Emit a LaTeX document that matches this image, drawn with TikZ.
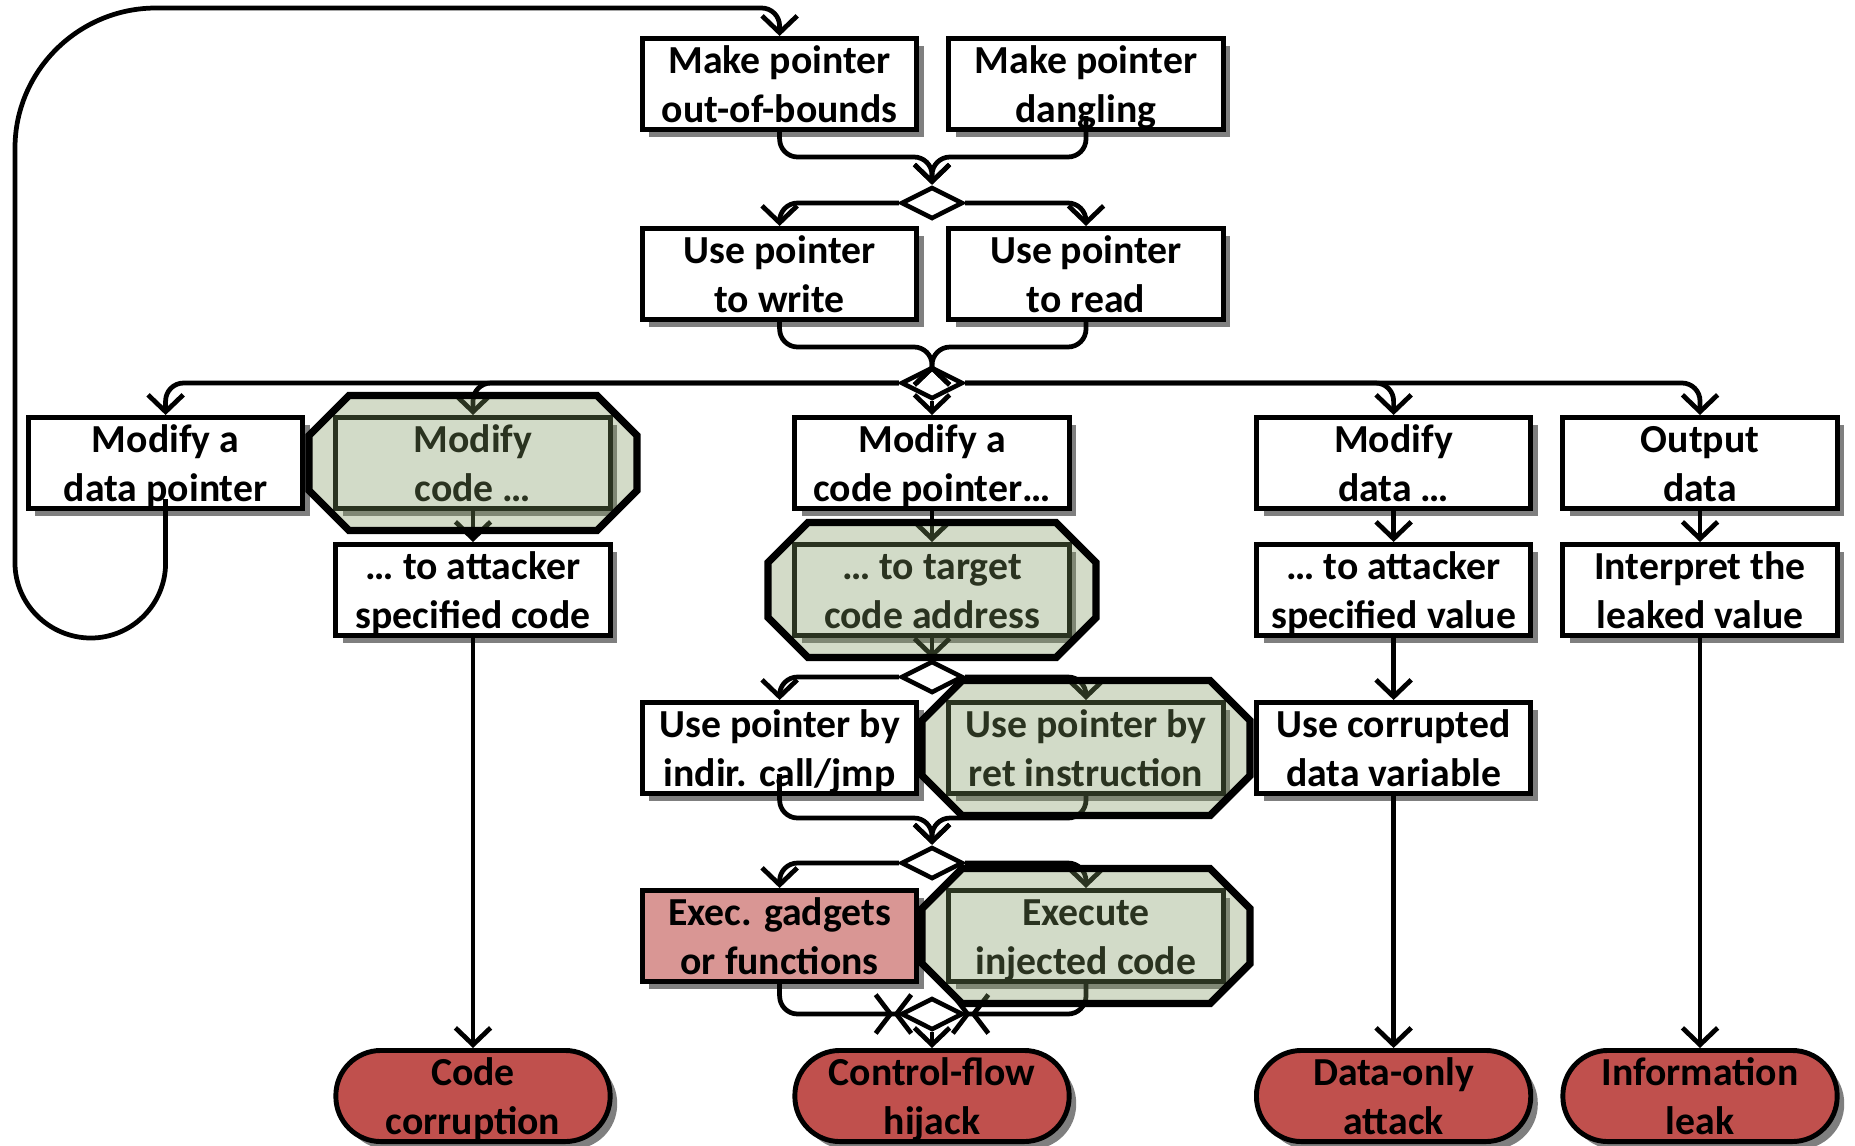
\documentclass[tikz,border=0pt]{standalone}
\usepackage{fontspec}
\setmainfont{Carlito}
\usetikzlibrary{arrows.meta,shadows,calc,shapes.geometric}

\definecolor{olivetint}{RGB}{126,150,94}
\definecolor{gadgetpink}{RGB}{217,150,148}
\definecolor{outcomered}{RGB}{192,80,77}

% two centred lines with a fixed height and depth
\newcommand{\boxtext}[2]{\rule{0pt}{10.8pt}#1\\#2\rule[-2.8pt]{0pt}{2.8pt}}

\tikzset{
  lbl/.style={font=\bfseries\fontsize{11.3}{13.8}\selectfont, align=center,
    inner xsep=0pt, inner ysep=-0.75pt},
  box/.style={lbl, draw, line width=1.4pt, fill=white,
    minimum width=78pt, minimum height=25.9pt,
    drop shadow={shadow xshift=2pt, shadow yshift=-2.2pt, fill=black, opacity=0.5}},
  gadget/.style={box, fill=gadgetpink},
  outcome/.style={box, fill=outcomered, rounded corners=12.8pt},
  junction/.style={diamond, draw, line width=1.3pt, fill=white, inner sep=0pt,
    minimum width=17.6pt, minimum height=9.1pt},
  conn/.style={line width=1.35pt, rounded corners=0.18cm,
    -{Straight Barb[length=4.8pt,width=10pt]}},
  crossmerge/.style={line width=1.35pt, rounded corners=0.18cm,
    -{Straight Barb[length=4.2pt,width=11pt,sep=0pt] Straight Barb[reversed,length=4.2pt,width=11pt]}},
  octo/.style={draw=black, line width=2.1pt, fill=olivetint, fill opacity=0.34, line join=miter},
}

% tinted octagon laid over a box
\newcommand{\octagonover}[1]{%
  \draw[octo] ($(#1.center)+(-164,-27.5)$) -- ++(0,55) -- ++(40,40) -- ++(248,0)
    -- ++(40,-40) -- ++(0,-55) -- ++(-40,-40) -- ++(-248,0) -- cycle;}

\begin{document}
\begin{tikzpicture}[x=0.01cm, y=-0.01cm]
\useasboundingbox (0,0) rectangle (1855,1145);

% ---- boxes ----
\node[box] (A) at (779.6,84) {\boxtext{Make pointer}{out-of-bounds}};
\node[box] (B) at (1086,84) {\boxtext{Make pointer}{dangling}};
\node[box] (C) at (779.6,274) {\boxtext{Use pointer}{to write}};
\node[box] (D) at (1086,274) {\boxtext{Use pointer}{to read}};

\node[box] (E) at (165.6,463) {\boxtext{Modify a}{data pointer}};
\node[box] (F) at (473,463) {\boxtext{Modify}{code …}};
\node[box] (G) at (932,463) {\boxtext{Modify a}{code pointer…}};
\node[box] (H) at (1393.6,463) {\boxtext{Modify}{data …}};
\node[box] (I) at (1700,463) {\boxtext{Output}{data}};

\node[box] (J) at (473,590) {\boxtext{… to attacker}{specified code}};
\node[box] (K) at (932,590) {\boxtext{… to target}{code address}};
\node[box] (L) at (1393.6,590) {\boxtext{… to attacker}{specified value}};
\node[box] (M) at (1700,590) {\boxtext{Interpret the}{leaked value}};

\node[box] (N) at (779.6,748) {\boxtext{Use pointer by}{indir. call/jmp}};
\node[box] (O) at (1086,748) {\boxtext{Use pointer by}{ret instruction}};
\node[box] (P) at (1393.6,748) {\boxtext{Use corrupted}{data variable}};

\node[gadget] (Q) at (779.6,936) {\boxtext{Exec. gadgets}{or functions}};
\node[box] (R) at (1086,936) {\boxtext{Execute}{injected code}};

\node[outcome] (T1) at (473,1096) {\boxtext{Code}{corruption}};
\node[outcome] (T2) at (932,1096) {\boxtext{Control-flow}{hijack}};
\node[outcome] (T3) at (1393.6,1096) {\boxtext{Data-only}{attack}};
\node[outcome] (T4) at (1700,1096) {\boxtext{Information}{leak}};

% ---- junctions ----
\node[junction] (J1) at (932,203) {};
\node[junction] (J2) at (932,383) {};
\node[junction] (J3) at (932,677) {};
\node[junction] (J4) at (932,863) {};
\node[junction] (J5) at (932,1014) {};

% ---- connectors ----
\draw[conn] (A.south) -- (779.6,157) -- (932,157) -- (J1.north);
\draw[conn] ($(B.south)+(0,-16)$) -- (1086,157) -- (932,157) -- (J1.north);
\draw[conn] (J1.west) -- (779.6,203) -- (C.north);
\draw[conn] (J1.east) -- (1086,203) -- (D.north);

\draw[conn] (C.south) -- (779.6,347) -- (932,347) -- (J2.north);
\draw[conn] (D.south) -- (1086,347) -- (932,347) -- (J2.north);
\draw[conn] (J2.west) -- (165.6,383) -- (E.north);
\draw[conn] (J2.west) -- (473,383) -- (F.north);
\draw[conn] (J2.south) -- (G.north);
\draw[conn] (J2.east) -- (1393.6,383) -- (H.north);
\draw[conn] (J2.east) -- (1700,383) -- (I.north);

\draw[conn] (F.south) -- (J.north);
\draw[conn] (G.south) -- (K.north);
\draw[conn] (H.south) -- (L.north);
\draw[conn] (I.south) -- (M.north);

% loop back from the data pointer branch
\draw[line width=1.35pt, -{Straight Barb[length=4.8pt,width=10pt]}]
  ($(E.south)+(0,-12)$) -- (165.6,563)
  .. controls (165.6,604.3) and (132.1,638) .. (90.8,638)
  .. controls (49.5,638) and (15,604.3) .. (15,563)
  -- (15,148)
  .. controls (15,70.7) and (78.7,8) .. (156,8)
  -- (761.6,8)
  .. controls (771.5,8) and (779.6,16.1) .. (779.6,26)
  -- (A.north);

\draw[conn] (K.south) -- (J3.north);
\draw[conn] (J3.west) -- (779.6,677) -- (N.north);
\draw[conn] (J3.east) -- (1086,677) -- (O.north);
\draw[conn] (L.south) -- (P.north);

\draw[conn] ($(N.south)+(0,-22)$) -- (779.6,818) -- (932,818) -- (J4.north);
\draw[conn] (O.south) -- (1086,818) -- (932,818) -- (J4.north);
\draw[conn] (J4.west) -- (779.6,863) -- (Q.north);
\draw[conn] (J4.east) -- (1086,863) -- (R.north);

\draw[crossmerge] (Q.south) -- (779.6,1014) -- ($(J5.west)+(14.8,0)$);
\draw[crossmerge] (R.south) -- (1086,1014) -- ($(J5.east)+(-14.8,0)$);
\draw[conn] (J5.south) -- (T2.north);

\draw[conn] (J.south) -- (T1.north);
\draw[conn] (P.south) -- (T3.north);
\draw[conn] (M.south) -- (T4.north);

% ---- tinted octagon overlays ----
\octagonover{F}
\octagonover{K}
\octagonover{O}
\octagonover{R}

\end{tikzpicture}
\end{document}
